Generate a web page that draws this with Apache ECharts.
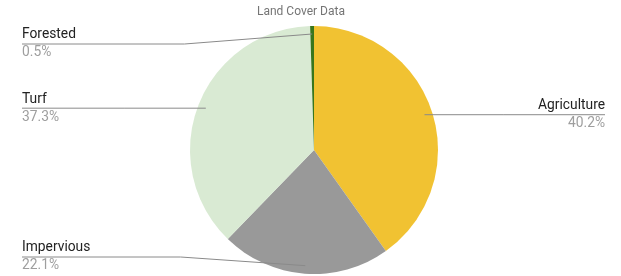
<!DOCTYPE html>
<html>
<head>
<meta charset="utf-8">
<script src="https://cdn.jsdelivr.net/npm/echarts@6/dist/echarts.min.js"></script>
<style>html,body{margin:0;padding:0;background:#fff}#c{width:621px;height:276px}</style>
</head>
<body>
<div id="c"></div>
<script>
const titleText = 'Land Cover Data';
const categories = ['Agriculture', 'Impervious', 'Turf', 'Forested'];
const values = [40.2, 22.1, 37.3, 0.5];
const colors = ['#f1c232', '#999999', '#d9ead3', '#38761d'];

const chart = echarts.init(document.getElementById('c'), null, {renderer: 'canvas'});
const CX = 314, CY = 150, R = 124, R_ANCHOR = 116;
const TITLE_BAND = 26, BOTTOM_BAND = 275, HALF_LABEL = 18;

const outerData = categories.map((n, i) => ({name: n, value: values[i], itemStyle: {color: colors[i]}}));
const labelData = categories.map((n, i) => ({
  name: n, value: values[i],
  label: {edgeDistance: i === 0 ? 16 : 22}
}));

chart.setOption({
  animation: false,
  title: {
    text: titleText, left: 252, top: 1,
    textStyle: {fontFamily: 'Roboto', fontSize: 12, fontWeight: 'normal', color: '#757575'}
  },
  series: [
    {
      type: 'pie', z: 2,
      center: [CX, CY], radius: [0, R], startAngle: 90, clockwise: true,
      label: {show: false}, labelLine: {show: false},
      itemStyle: {borderWidth: 0},
      emphasis: {disabled: true}, silent: true,
      data: outerData
    },
    {
      type: 'pie', z: 5, avoidLabelOverlap: false,
      center: [CX, CY], radius: [0, R_ANCHOR], startAngle: 90, clockwise: true,
      itemStyle: {color: 'transparent', borderWidth: 0},
      emphasis: {disabled: true}, silent: true,
      label: {
        show: true, position: 'outer', alignTo: 'edge', edgeDistance: 22,
        formatter: '{n|{b}}\n{v|{c}%}',
        rich: {
          n: {fontFamily: 'Roboto', fontSize: 13.8, color: '#222222', lineHeight: 18},
          v: {fontFamily: 'Roboto', fontSize: 13.8, color: '#9e9e9e', lineHeight: 18}
        }
      },
      labelLine: {show: true, length: 0, length2: 10, smooth: false, lineStyle: {color: '#8a8a8a', width: 1}},
      labelLayout: function (params) {
        const pts = params.labelLinePoints;
        if (!pts) return {};
        const isLeft = params.labelRect.x < chart.getWidth() / 2;
        const anchorY = pts[0][1];
        const y = Math.min(Math.max(anchorY, TITLE_BAND + HALF_LABEL), BOTTOM_BAND - HALF_LABEL);
        pts[2][0] = isLeft ? params.labelRect.x : params.labelRect.x + params.labelRect.width;
        pts[1][0] = pts[0][0] + (pts[2][0] - pts[0][0]) * 0.44;
        pts[1][1] = y; pts[2][1] = y;
        return {labelLinePoints: pts, dy: y - anchorY};
      },
      data: labelData
    }
  ]
});
</script>
</body>
</html>
